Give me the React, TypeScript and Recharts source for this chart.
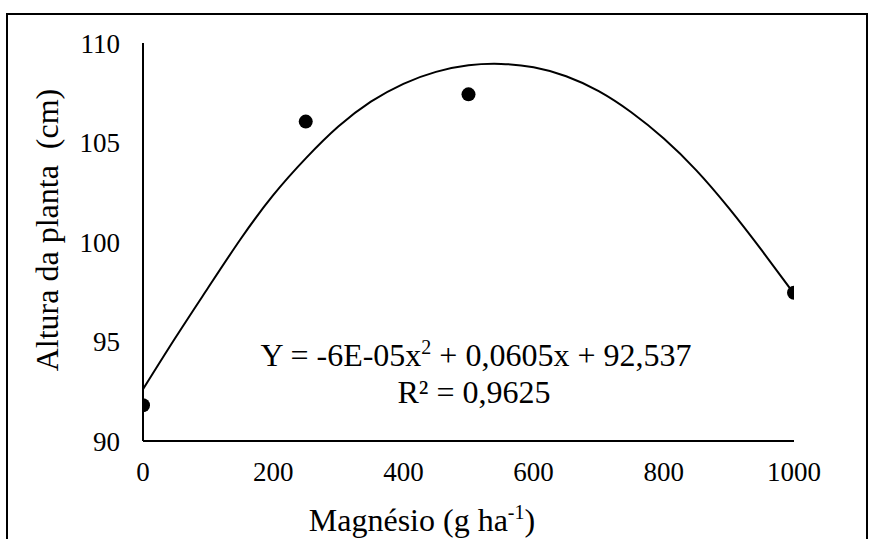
import React from 'react';
import { ComposedChart, Line, Scatter, XAxis, YAxis } from 'recharts';

// Observed means (Magnésio dose, g/ha → plant height, cm)
const doses = [0, 250, 500, 1000];
const heights = [91.8, 106.05, 107.42, 97.45];

// Trend curve
const curveX = [0, 50, 100, 150, 200, 250, 300, 350, 400, 450, 500, 550, 600, 650, 700, 750, 800, 850, 900, 950, 1000];
const curveY = [92.6, 95.2, 97.7, 100.15, 102.35, 104.2, 105.8, 107.05, 107.95, 108.55, 108.88, 108.95, 108.78, 108.33, 107.58, 106.52, 105.2, 103.6, 101.7, 99.6, 97.4];

const xTicks = [0, 200, 400, 600, 800, 1000];
const yTicks = [90, 95, 100, 105, 110];

const pointData = doses.map((d, i) => ({ x: d, y: heights[i] }));
const curveData = curveX.map((d, i) => ({ x: d, y: curveY[i] }));

const FONT = "'Liberation Serif', 'Times New Roman', Times, 'DejaVu Serif', serif";

const Dot = (props: any) => <circle cx={props.cx} cy={props.cy} r={7} fill="#000" />;

const sup = (t: string, size: number, top: number) => (
  <span style={{ fontSize: size, position: 'relative', top }}>{t}</span>
);

export default function App() {
  return (
    <div style={{ position: 'absolute', left: 0, top: 0, width: 880, height: 539, background: '#fff', overflow: 'hidden', fontFamily: FONT }}>
      <div style={{ position: 'absolute', left: 6, top: 13, width: 862, height: 600, border: '2px solid #000', boxSizing: 'border-box' }} />
      <ComposedChart width={880} height={539} margin={{ top: 43, right: 86, left: 83, bottom: 68 }} style={{ fontFamily: FONT }}>
        <XAxis
          dataKey="x"
          type="number"
          domain={[0, 1000]}
          ticks={xTicks}
          tickLine={false}
          axisLine={{ stroke: '#000', strokeWidth: 2 }}
          tick={{ fill: '#000', fontSize: 27, fontFamily: FONT }}
          tickMargin={15}
          height={30}
          interval={0}
          allowDataOverflow
        />
        <YAxis
          dataKey="y"
          type="number"
          domain={[90, 110]}
          ticks={yTicks}
          tickLine={false}
          axisLine={{ stroke: '#000', strokeWidth: 2 }}
          tick={{ fill: '#000', fontSize: 27, fontFamily: FONT }}
          tickMargin={17}
          width={60}
          interval={0}
          allowDataOverflow
        />
        <Line data={curveData} dataKey="y" type="natural" stroke="#000" strokeWidth={2} dot={false} activeDot={false} isAnimationActive={false} />
        <Scatter data={pointData} dataKey="y" shape={Dot} isAnimationActive={false} />
      </ComposedChart>
      <div style={{ position: 'absolute', left: 0, top: 0, width: 880, height: 539, pointerEvents: 'none', fontFamily: FONT, color: '#000' }}>
        <div style={{ position: 'absolute', left: 422, top: 520, transform: 'translate(-50%, -50%)', fontSize: 32, lineHeight: 1, whiteSpace: 'nowrap' }}>
          Magnésio (g ha{sup('-1', 20, -12)})
        </div>
        <div style={{ position: 'absolute', left: 47, top: 230, transform: 'translate(-50%, -50%) rotate(-90deg)', fontSize: 32, lineHeight: 1, whiteSpace: 'pre' }}>
          {'Altura da planta  (cm)'}
        </div>
        <div style={{ position: 'absolute', left: 476, top: 355, transform: 'translate(-50%, -50%)', fontSize: 32, lineHeight: 1, whiteSpace: 'nowrap' }}>
          Y = -6E-05x{sup('2', 20, -12)} + 0,0605x + 92,537
        </div>
        <div style={{ position: 'absolute', left: 474, top: 392, transform: 'translate(-50%, -50%)', fontSize: 32, lineHeight: 1, whiteSpace: 'nowrap' }}>
          R² = 0,9625
        </div>
      </div>
    </div>
  );
}
